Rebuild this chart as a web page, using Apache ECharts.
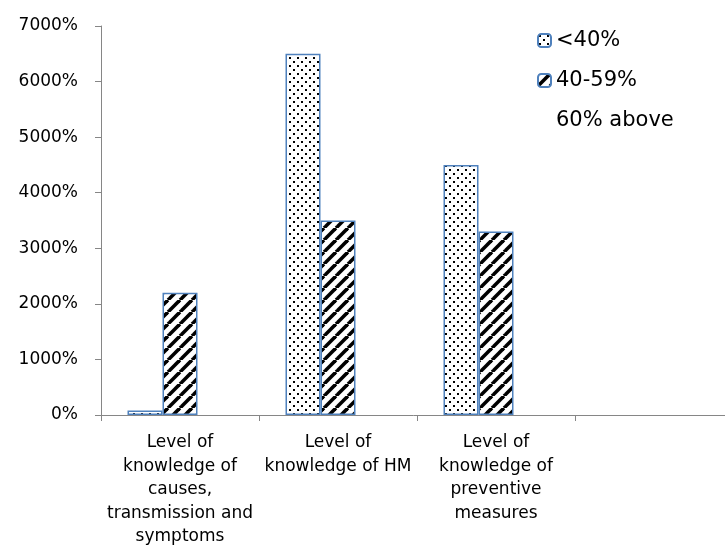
<!DOCTYPE html>
<html>
<head>
<meta charset="utf-8">
<script src="https://cdn.jsdelivr.net/npm/echarts@6/dist/echarts.min.js"></script>
<style>
  html, body { margin: 0; padding: 0; background: #fff; }
  #chart { width: 725px; height: 555px; }
</style>
</head>
<body>
<div id="chart"></div>
<script>
// Knowledge levels per topic, values in percent
const categories = [
  'Level of\nknowledge of\ncauses,\ntransmission and\nsymptoms',
  'Level of\nknowledge of HM',
  'Level of\nknowledge of\npreventive\nmeasures',
  ''
];
const seriesNames = ['<40%', '40-59%', '60% above'];
const below40 = [80, 6500, 4500, null];
const from40to59 = [2200, 3500, 3300, null];
const above60 = [null, null, null, null];
const yTicks = { min: 0, max: 7000, step: 1000 };

const FONT = 'DejaVu Sans';
const BORDER = '#4F81BD';
const AXIS = '#868686';

// Small dotted fill tile
function dotTile() {
  const c = document.createElement('canvas');
  c.width = 8; c.height = 8;
  const g = c.getContext('2d');
  g.fillStyle = '#fff'; g.fillRect(0, 0, 8, 8);
  g.fillStyle = '#000';
  g.fillRect(1, 1, 2, 2);
  g.fillRect(5, 5, 2, 2);
  return c;
}
// Diagonal "/" stripe fill tile
function stripeTile() {
  const s = 12;
  const c = document.createElement('canvas');
  c.width = s; c.height = s;
  const g = c.getContext('2d');
  g.fillStyle = '#fff'; g.fillRect(0, 0, s, s);
  g.strokeStyle = '#000';
  g.lineWidth = 3.6;
  for (let k = -1; k <= 1; k++) {
    g.beginPath();
    g.moveTo(k * s, s);
    g.lineTo(k * s + s, 0);
    g.stroke();
  }
  return c;
}

const chart = echarts.init(document.getElementById('chart'), null, { renderer: 'canvas' });

chart.setOption({
  animation: false,
  backgroundColor: '#fff',
  textStyle: { fontFamily: FONT, color: '#000' },
  grid: {
    left: 101, top: 26, width: 632, height: 389,
    containLabel: false,
    outerBoundsMode: 'none'
  },
  legend: {
    orient: 'vertical',
    left: 537,
    top: 30,
    padding: 0,
    itemGap: 19,
    itemWidth: 13,
    itemHeight: 13,
    textStyle: { fontFamily: FONT, fontSize: 21, color: '#000' },
    data: seriesNames
  },
  xAxis: {
    type: 'category',
    data: categories,
    axisLine: { lineStyle: { color: AXIS, width: 1 } },
    axisTick: { show: true, length: 6, lineStyle: { color: AXIS } },
    axisLabel: {
      interval: 0,
      margin: 16,
      fontFamily: FONT,
      fontSize: 17,
      lineHeight: 23.5,
      color: '#000',
      align: 'center'
    },
    splitLine: { show: false }
  },
  yAxis: {
    type: 'value',
    min: yTicks.min,
    max: yTicks.max,
    interval: yTicks.step,
    axisLine: { show: true, lineStyle: { color: AXIS, width: 1 } },
    axisTick: { show: true, length: 6, lineStyle: { color: AXIS } },
    axisLabel: {
      formatter: v => v + '%',
      margin: 23,
      fontFamily: FONT,
      fontSize: 17,
      color: '#000'
    },
    splitLine: { show: false }
  },
  series: [
    {
      name: seriesNames[0],
      type: 'bar',
      data: below40,
      barWidth: 35,
      barGap: '0%',
      itemStyle: {
        color: { image: dotTile(), repeat: 'repeat' },
        borderColor: BORDER,
        borderWidth: 1.5
      }
    },
    {
      name: seriesNames[1],
      type: 'bar',
      data: from40to59,
      barWidth: 35,
      barGap: '0%',
      itemStyle: {
        color: { image: stripeTile(), repeat: 'repeat' },
        borderColor: BORDER,
        borderWidth: 1.5
      }
    },
    {
      name: seriesNames[2],
      type: 'bar',
      data: above60,
      barWidth: 35,
      barGap: '0%',
      itemStyle: { color: 'transparent', borderWidth: 0 }
    }
  ]
});
</script>
</body>
</html>
